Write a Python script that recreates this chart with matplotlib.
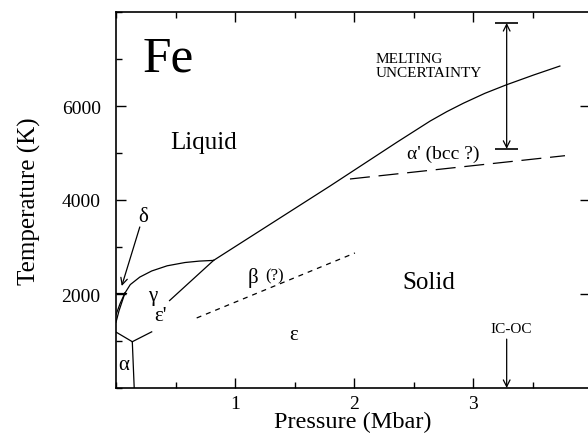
import matplotlib.pyplot as plt
from matplotlib.ticker import MultipleLocator

plt.rcParams['font.family'] = ['Liberation Serif', 'DejaVu Serif']
plt.rcParams['mathtext.fontset'] = 'stix'

# 熔化曲线 (液相 / 固相边界)
melt_p = [0.82, 1.80, 2.36, 2.64, 2.78, 2.92, 3.10, 3.28, 3.51, 3.73]
melt_t = [2715, 4300, 5228, 5680, 5880, 6060, 6270, 6450, 6660, 6850]

# 液相 / γ 边界
liq_gamma_p = [0.075, 0.12, 0.20, 0.30, 0.43, 0.58, 0.70, 0.82]
liq_gamma_t = [2020, 2200, 2360, 2490, 2600, 2670, 2700, 2715]

# γ / ε 边界 (中间被 ε' 标签隔开)
gamma_eps_lo_p = [0.137, 0.30]
gamma_eps_lo_t = [985, 1195]
gamma_eps_hi_p = [0.45, 0.82]
gamma_eps_hi_t = [1860, 2715]

# α 区边界
alpha_gamma_p = [0.0, 0.137]
alpha_gamma_t = [1190, 985]
alpha_eps_p = [0.137, 0.153]
alpha_eps_t = [985, 0]

# δ 区小透镜
delta_top_p = [0.0, 0.08]
delta_top_t = [2020, 2020]
delta_a_p = [0.075, 0.035, 0.0]
delta_a_t = [2020, 1800, 1560]
delta_b_p = [0.075, 0.025, 0.0]
delta_b_t = [2020, 1640, 1400]

# α' (bcc ?) 虚线与 β (?) 点线
bcc_p = [1.966, 3.773]
bcc_t = [4447, 4943]
beta_p = [0.678, 2.008]
beta_t = [1490, 2873]

# 熔化温度不确定范围与内核/外核边界压力
unc_p = 3.283
unc_lo, unc_hi = 5088, 7766
icoc_p = 3.283

fig = plt.figure(figsize=(5.88, 4.39), dpi=100)
ax = fig.add_axes([116 / 588, 50 / 439, 474 / 588, 376 / 439])
ax.set_xlim(0, 474 / 119)
ax.set_ylim(0, 8000)

lw = 0.9
ax.plot(melt_p, melt_t, color='k', lw=lw)
ax.plot(liq_gamma_p, liq_gamma_t, color='k', lw=lw)
ax.plot(gamma_eps_lo_p, gamma_eps_lo_t, color='k', lw=lw)
ax.plot(gamma_eps_hi_p, gamma_eps_hi_t, color='k', lw=lw)
ax.plot(alpha_gamma_p, alpha_gamma_t, color='k', lw=lw)
ax.plot(alpha_eps_p, alpha_eps_t, color='k', lw=lw)
ax.plot(delta_top_p, delta_top_t, color='k', lw=lw)
ax.plot(delta_a_p, delta_a_t, color='k', lw=lw)
ax.plot(delta_b_p, delta_b_t, color='k', lw=lw)
ax.plot(bcc_p, bcc_t, color='k', lw=lw, dashes=(16, 7))
ax.plot(beta_p, beta_t, color='k', lw=lw, dashes=(4, 4))

# 不确定范围双箭头加端线
ax.annotate('', xy=(unc_p, unc_hi), xytext=(unc_p, unc_lo),
            arrowprops=dict(arrowstyle='<->', color='k', lw=lw,
                            shrinkA=0, shrinkB=0, mutation_scale=12))
ax.hlines([unc_lo, unc_hi], unc_p - 0.095, unc_p + 0.095, color='k', lw=1.2)

# IC-OC 箭头
ax.annotate('', xy=(icoc_p, 0), xytext=(icoc_p, 1040),
            arrowprops=dict(arrowstyle='->', color='k', lw=lw,
                            shrinkA=0, shrinkB=0, mutation_scale=12))
# δ 箭头
ax.annotate('', xy=(0.048, 2170), xytext=(0.20, 3426),
            arrowprops=dict(arrowstyle='->', color='k', lw=lw,
                            shrinkA=0, shrinkB=0, mutation_scale=12))

# 文字标注
ax.text(0.227, 6752, 'Fe', fontsize=37, ha='left', va='baseline')
ax.text(0.454, 5107, 'Liquid', fontsize=18, ha='left', va='baseline')
ax.text(2.409, 2121, 'Solid', fontsize=18, ha='left', va='baseline')
ax.text(2.185, 6931, 'MELTING', fontsize=11, ha='left', va='baseline')
ax.text(2.185, 6633, 'UNCERTAINTY', fontsize=11, ha='left', va='baseline')
ax.text(2.443, 4894, "α' (bcc ?)", fontsize=14, ha='left', va='baseline')
ax.text(3.143, 1198, 'IC-OC', fontsize=11, ha='left', va='baseline')
ax.text(0.227, 3639, 'δ', fontsize=15, ha='center', va='center')
ax.text(0.311, 1958, 'γ', fontsize=15, ha='center', va='center')
ax.text(0.37, 1532, "ε'", fontsize=15, ha='center', va='center')
ax.text(0.061, 490, 'α', fontsize=15, ha='center', va='center')
ax.text(1.496, 1128, 'ε', fontsize=15, ha='center', va='center')
ax.text(1.151, 2362, 'β', fontsize=15, ha='center', va='center')
ax.text(1.336, 2405, '(?)', fontsize=12, ha='center', va='center')

# 坐标轴与刻度
ax.set_xlabel('Pressure (Mbar)', fontsize=17.5, labelpad=-1)
ax.set_ylabel('Temperature (K)', fontsize=18, labelpad=15)
ax.set_xticks([1, 2, 3])
ax.set_yticks([2000, 4000, 6000])
ax.xaxis.set_minor_locator(MultipleLocator(0.5))
ax.yaxis.set_minor_locator(MultipleLocator(1000))
ax.tick_params(which='both', direction='in', top=True, labelsize=14, width=1)
ax.tick_params(which='major', length=7, right=True)
ax.tick_params(axis='x', which='major', pad=5)
ax.tick_params(axis='y', which='major', pad=11)
ax.tick_params(axis='y', which='minor', length=4, right=False)
ax.tick_params(axis='x', which='minor', length=4)
for side in ['left', 'bottom', 'top', 'right']:
    ax.spines[side].set_linewidth(1.2)

fig.savefig('out.png', dpi=100)
